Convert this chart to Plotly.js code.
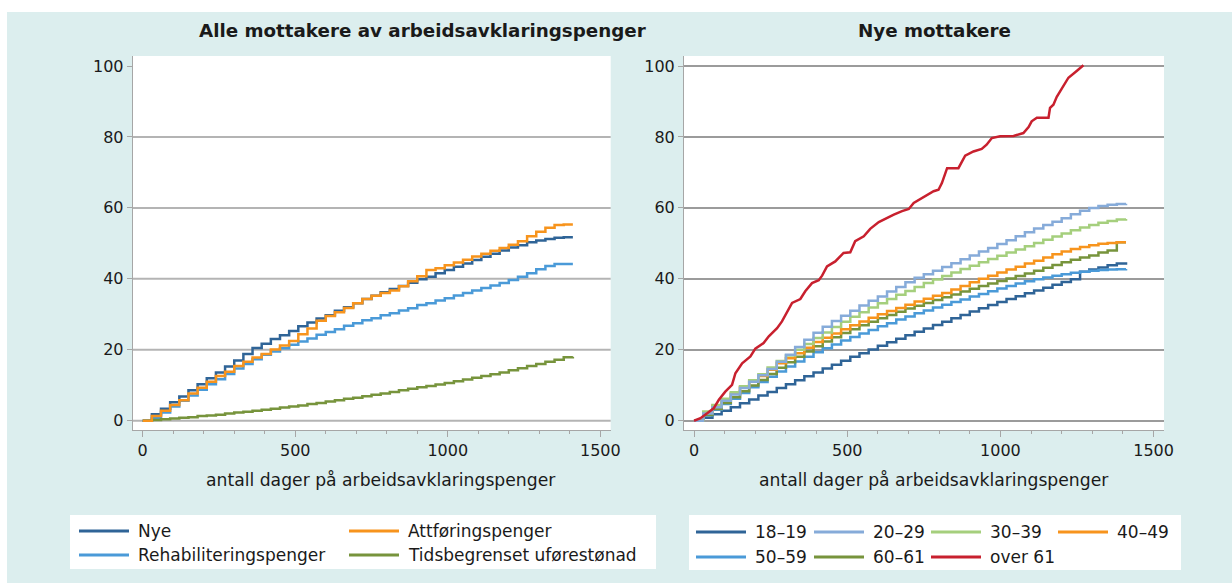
<!DOCTYPE html>
<html>
<head>
<meta charset="utf-8">
<script src="https://cdn.plot.ly/plotly-3.0.1.min.js"></script>
<style>html,body{margin:0;padding:0;background:#fff;}#chart{width:1232px;height:583px;}</style>
</head>
<body>
<div id="chart"></div>
<script>
// ---------- data ----------
const days = [0,30,60,90,120,150,180,210,240,270,300,330,360,390,420,450,480,510,540,570,600,630,660,690,720,750,780,810,840,870,900,930,960,990,1020,1050,1080,1110,1140,1170,1200,1230,1260,1290,1320,1350,1380,1410];

// Left panel: Alle mottakere av arbeidsavklaringspenger
const leftNames = ["Nye", "Attføringspenger", "Rehabiliteringspenger", "Tidsbegrenset uførestønad"];
const nye = [0,1.8,3.4,5.2,6.8,8.6,10.3,12.0,13.6,15.3,17.0,18.8,20.5,21.7,23.0,24.1,25.3,26.6,27.7,28.8,29.7,31.0,32.0,33.1,34.3,35.2,36.2,37.1,38.0,38.9,39.9,40.6,41.6,42.5,43.4,44.3,45.3,46.2,47.1,48.0,48.8,49.5,50.3,50.8,51.2,51.6,51.7,51.7];
const attforing = [0,1.3,2.8,4.4,5.8,7.7,9.3,11.0,12.6,13.8,15.4,16.6,17.8,18.8,20.1,21.2,22.5,24.4,26.0,28.2,29.5,30.6,31.8,33.1,34.3,35.2,36.0,36.7,37.9,39.3,40.7,42.5,43.0,43.8,44.6,45.4,46.3,47.1,47.9,48.7,49.6,50.6,52.0,53.3,54.4,55.2,55.3,55.3];
const rehabilitering = [0,0.7,2.3,4.0,5.6,7.1,8.7,10.3,11.7,13.2,14.7,16.0,17.3,18.6,19.5,20.4,21.4,22.3,23.2,24.2,25.0,25.8,26.8,27.5,28.3,28.9,29.7,30.3,31.1,31.7,32.6,33.1,33.9,34.5,35.3,36.0,36.7,37.4,38.1,38.8,39.7,40.6,41.6,42.7,43.6,44.2,44.2,44.2];
const tidsbegrenset = [0,0.2,0.4,0.6,0.8,1.0,1.3,1.5,1.7,2.0,2.3,2.5,2.8,3.1,3.4,3.7,4.0,4.3,4.7,5.0,5.4,5.8,6.2,6.5,6.9,7.3,7.7,8.1,8.6,9.0,9.4,9.8,10.2,10.6,11.1,11.6,12.1,12.6,13.1,13.6,14.2,14.8,15.4,16.0,16.6,17.2,17.9,18.0];

// Right panel: Nye mottakere (by age)
const rightNames = ["18–19", "20–29", "30–39", "40–49", "50–59", "60–61", "over 61"];
const age1819 = [0,0.8,1.8,2.8,3.8,4.9,6.0,7.1,8.1,9.2,10.3,11.4,12.5,13.6,14.7,15.8,16.9,18.0,19.0,20.1,21.1,22.1,23.1,24.1,25.1,26.0,27.0,27.9,28.9,29.8,30.8,31.7,32.6,33.5,34.3,35.1,35.9,36.7,37.5,38.3,39.1,39.9,42.0,42.6,43.2,43.8,44.3,44.7];
const age2029 = [0,2.0,3.8,5.6,7.4,9.2,11.0,12.8,14.6,16.6,18.6,20.8,22.8,24.8,26.5,28.1,29.6,31.0,32.5,33.8,35.0,36.4,37.7,39.0,40.3,41.3,42.3,43.3,44.4,45.5,46.6,47.7,48.7,49.8,50.9,52.0,53.1,54.2,55.2,56.1,57.1,58.2,59.2,60.0,60.5,60.9,61.1,61.2];
const age3039 = [0,2.6,4.4,6.2,8.0,9.7,11.4,13.1,15.0,16.8,18.4,20.0,21.6,23.3,24.9,26.4,27.9,29.3,30.6,31.9,33.1,34.3,35.5,36.6,37.7,38.8,39.8,40.8,41.8,42.8,43.7,44.7,45.6,46.5,47.4,48.3,49.2,50.1,51.0,51.9,52.8,53.7,54.5,55.2,55.8,56.3,56.7,56.9];
const age4049 = [0,2.4,4.2,6.0,7.7,9.4,11.0,12.6,14.4,16.2,17.6,19.0,20.6,22.2,23.4,24.6,25.8,26.9,28.0,29.0,30.0,30.9,31.8,32.7,33.6,34.4,35.2,36.0,37.0,38.0,39.0,40.0,40.9,41.8,42.6,43.4,44.3,45.1,46.0,46.9,47.7,48.4,49.0,49.5,49.9,50.1,50.3,50.3];
const age5059 = [0,1.5,3.1,4.7,6.2,7.8,9.4,10.9,12.4,13.9,15.3,16.7,18.0,19.3,20.4,21.5,22.6,23.6,24.6,25.6,26.6,27.5,28.5,29.4,30.3,31.1,31.9,32.7,33.5,34.2,35.0,35.7,36.5,37.3,38.0,38.7,39.3,39.9,40.4,40.9,41.3,41.7,42.0,42.3,42.5,42.6,42.7,42.8];
const age6061 = [0,1.6,3.3,5.0,6.6,8.3,9.9,11.5,13.2,14.9,16.5,18.0,19.5,21.0,22.3,23.5,24.7,25.8,26.9,27.9,28.9,29.8,30.7,31.6,32.4,33.2,34.0,34.8,35.6,36.4,37.2,38.0,38.7,39.4,40.1,40.8,41.5,42.3,43.1,43.9,44.7,45.4,46.0,46.6,47.4,48.0,50.3,50.3];
const over61Days = [0,21,43,64,81,102,124,135,157,184,200,227,244,271,287,303,320,347,363,385,407,418,434,461,488,510,526,554,575,603,630,652,679,701,717,738,760,782,798,809,826,863,885,912,939,955,972,999,1043,1075,1092,1102,1119,1157,1162,1173,1184,1195,1222,1249,1271];
const over61 = [0,0.7,2.1,3.5,5.9,8.2,10.1,13.4,16.2,18.1,20.3,21.9,23.8,26.1,28.0,30.4,33.2,34.3,36.5,38.8,39.6,40.9,43.5,44.9,47.3,47.5,50.6,52.0,54.1,56.0,57.2,58.1,59.1,59.7,61.4,62.5,63.7,64.7,65.1,67.0,71.2,71.2,74.7,75.9,76.6,77.8,79.7,80.2,80.3,81.1,82.8,84.4,85.4,85.4,88.2,89.1,91.3,92.9,96.7,98.6,100.2];

const yTicks = [0, 20, 40, 60, 80, 100];
const leftGrid = [0, 20, 40, 60, 80];
const xTitle = "antall dager på arbeidsavklaringspenger";
const leftTitle = "Alle mottakere av arbeidsavklaringspenger";
const rightTitle = "Nye mottakere";

// ---------- styling ----------
const C = {
  dark: '#2f6497', orange: '#f7941d', mid: '#4a9ad8', olive: '#77943c',
  steel: '#86abd9', lgreen: '#a5cf7d', red: '#c8202e'
};
const W = 1232, H = 583;
const px = x => x / W;
const py = y => 1 - y / H;
const FONT = 'DejaVu Sans';
const TXT = '#1a1a1a';
const LW = 2.5;

function stepTrace(x, y, name, color, xa, ya, shape) {
  return {x: x, y: y, name: name, type: 'scatter', mode: 'lines',
    line: {color: color, width: LW, shape: shape || 'hv'},
    xaxis: xa, yaxis: ya, hoverinfo: 'skip'};
}

const leftSeries = [nye, attforing, rehabilitering, tidsbegrenset];
const leftColors = [C.dark, C.orange, C.mid, C.olive];
const rightSeries = [age1819, age2029, age3039, age4049, age5059, age6061];
const rightColors = [C.dark, C.steel, C.lgreen, C.orange, C.mid, C.olive, C.red];

const traces = [];
[0, 2, 3, 1].forEach(i => traces.push(stepTrace(days, leftSeries[i], leftNames[i], leftColors[i], 'x', 'y')));
[0, 4, 5, 3, 2, 1].forEach(i => traces.push(stepTrace(days, rightSeries[i], rightNames[i], rightColors[i], 'x2', 'y2')));
traces.push(stepTrace(over61Days, over61, rightNames[6], C.red, 'x2', 'y2', 'linear'));

const axisCommon = {
  showline: true, linecolor: '#a6a6a6', linewidth: 1,
  ticks: 'outside', tickcolor: '#a6a6a6', tickwidth: 1,
  zeroline: false, fixedrange: true,
  tickfont: {family: FONT, size: 16, color: TXT}
};
function xAxis(domain, anchor) {
  return Object.assign({}, axisCommon, {
    domain: domain, anchor: anchor, range: [-32.8, 1534],
    tickmode: 'linear', tick0: 0, dtick: 500, ticklen: 6, showgrid: false,
    minor: {tickmode: 'linear', tick0: 0, dtick: 100, ticks: 'outside', ticklen: 3, tickcolor: '#a6a6a6', showgrid: false}
  });
}
function yAxis(anchor, grid) {
  return Object.assign({}, axisCommon, {
    domain: [py(430), py(56)], anchor: anchor, range: [-2.62, 102.82],
    tickmode: 'array', tickvals: yTicks, ticklen: 5,
    showgrid: grid, gridcolor: '#9b9b9b', gridwidth: 2
  });
}

const shapes = [
  {type: 'rect', xref: 'paper', yref: 'paper', x0: 0, x1: 1, y0: py(12), y1: 1, fillcolor: '#ffffff', line: {width: 0}, layer: 'below'},
  {type: 'rect', xref: 'paper', yref: 'paper', x0: 0, x1: px(7), y0: 0, y1: 1, fillcolor: '#ffffff', line: {width: 0}, layer: 'below'},
  {type: 'rect', xref: 'paper', yref: 'paper', x0: px(70), x1: px(656), y0: py(569), y1: py(515), fillcolor: '#ffffff', line: {width: 0}, layer: 'below'},
  {type: 'rect', xref: 'paper', yref: 'paper', x0: px(689), x1: px(1181), y0: py(570), y1: py(515), fillcolor: '#ffffff', line: {width: 0}, layer: 'below'}
];
leftGrid.forEach(g => shapes.push({type: 'line', xref: 'x domain', yref: 'y', x0: 0, x1: 1, y0: g, y1: g,
  line: {color: '#b4b4b4', width: 2}, layer: 'below'}));

const annotations = [
  {text: '<b>' + leftTitle + '</b>', x: px(422), y: py(30), xref: 'paper', yref: 'paper', xanchor: 'center', yanchor: 'middle', showarrow: false, font: {family: FONT, size: 18.3, color: TXT}},
  {text: '<b>' + rightTitle + '</b>', x: px(934), y: py(30), xref: 'paper', yref: 'paper', xanchor: 'center', yanchor: 'middle', showarrow: false, font: {family: FONT, size: 18.3, color: TXT}},
  {text: xTitle, x: px(381), y: py(480), xref: 'paper', yref: 'paper', xanchor: 'center', yanchor: 'middle', showarrow: false, font: {family: FONT, size: 17.2, color: TXT}},
  {text: xTitle, x: px(934), y: py(480), xref: 'paper', yref: 'paper', xanchor: 'center', yanchor: 'middle', showarrow: false, font: {family: FONT, size: 17.2, color: TXT}}
];

function legendItem(name, color, lx, ly) {
  shapes.push({type: 'line', xref: 'paper', yref: 'paper', x0: px(lx), x1: px(lx + 50), y0: py(ly), y1: py(ly), line: {color: color, width: 3}});
  annotations.push({text: name, x: px(lx + 57), y: py(ly), xref: 'paper', yref: 'paper', xanchor: 'left', yanchor: 'middle', showarrow: false, font: {family: FONT, size: 17, color: TXT}});
}
const lRows = [531, 555];
legendItem(leftNames[0], leftColors[0], 79, lRows[0]);
legendItem(leftNames[1], leftColors[1], 349, lRows[0]);
legendItem(leftNames[2], leftColors[2], 79, lRows[1]);
legendItem(leftNames[3], leftColors[3], 349, lRows[1]);
const rCols = [696, 814, 931, 1058];
const rRows = [532, 557];
rightNames.forEach((n, i) => legendItem(n, rightColors[i], rCols[i % 4], rRows[Math.floor(i / 4)]));

const layout = {
  width: W, height: H,
  margin: {l: 0, r: 0, t: 0, b: 0},
  paper_bgcolor: '#dceeee', plot_bgcolor: '#ffffff',
  showlegend: false,
  font: {family: FONT, size: 16, color: TXT},
  xaxis: xAxis([px(132.7), px(610.7)], 'y'),
  yaxis: yAxis('x', false),
  xaxis2: xAxis([px(684), px(1164)], 'y2'),
  yaxis2: yAxis('x2', true),
  shapes: shapes,
  annotations: annotations
};

Plotly.newPlot('chart', traces, layout, {displayModeBar: false, staticPlot: true});
</script>
</body>
</html>
